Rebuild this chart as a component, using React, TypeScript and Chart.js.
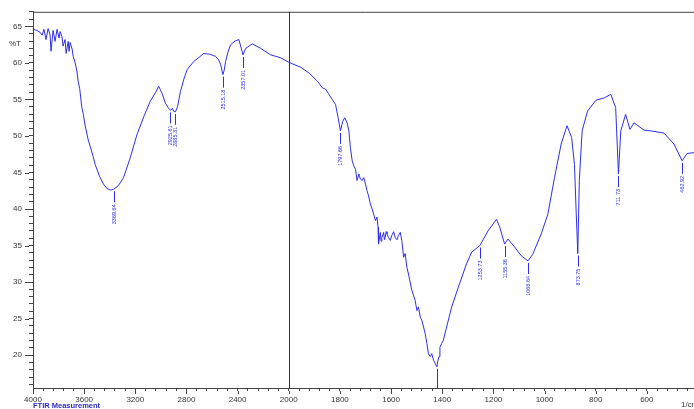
import React, { useEffect, useRef } from 'react';
import { Chart, registerables } from 'chart.js';
Chart.register(...registerables);

const wavenumbers = [
  4000, 3969, 3945, 3929, 3914, 3898, 3882, 3867, 3859, 3843, 3827, 3812, 3796, 3788, 3773, 3765, 3749, 3741, 3725, 3718,
  3710, 3694, 3686, 3670, 3657, 3647, 3635, 3618, 3608, 3592, 3575, 3566, 3553, 3530, 3514, 3480, 3449, 3420, 3396, 3370,
  3333, 3292, 3240, 3187, 3130, 3082, 3040, 3017, 2990, 2965, 2940, 2925, 2910, 2900, 2886, 2870, 2847, 2820, 2794, 2743,
  2700, 2664, 2620, 2573, 2550, 2533, 2515, 2505, 2494, 2475, 2455, 2420, 2390, 2376, 2358, 2337, 2285, 2220, 2141, 2100,
  2063, 2000,
  1953, 1920, 1888, 1869, 1856, 1843, 1830, 1817, 1807, 1798, 1789, 1781, 1772, 1765, 1759, 1752, 1746, 1739, 1733, 1726,
  1720, 1713, 1707, 1700, 1694, 1688, 1681, 1674, 1668, 1661, 1655, 1651, 1649, 1642, 1639, 1636, 1629, 1626, 1623, 1619,
  1616, 1610, 1603, 1597, 1590, 1584, 1577, 1571, 1564, 1558, 1551, 1545, 1538, 1532, 1519, 1506, 1499, 1493, 1486, 1480,
  1467, 1460, 1454, 1447, 1441, 1434,
  1428, 1421, 1418, 1412, 1409, 1402, 1396, 1363, 1337, 1305, 1285, 1253, 1221, 1188, 1175, 1156, 1143, 1117, 1091, 1065,
  1046, 1013, 987, 961, 935, 912, 894, 883, 876, 870, 864, 853, 832, 799, 767, 741, 722, 711, 702, 683,
  666, 650, 611, 585, 533, 494, 462, 443, 420, 400,
];

const transmittance = [
  64.6, 64.45, 64.2, 63.8, 64.6, 63.2, 64.7, 63.9, 61.6, 64.45, 62.95, 64.6, 63.4, 64.3, 63.6, 62.3, 63.2, 61.3, 62.95, 61.6,
  62.8, 61.9, 60.9, 60.0, 58.9, 57.5, 56.5, 53.9, 53.1, 51.4, 50.0, 49.3, 48.6, 47.2, 46.1, 44.5, 43.4, 42.8, 42.6, 42.7,
  43.2, 44.3, 47.0, 50.2, 52.8, 54.8, 56.0, 56.8, 55.8, 54.5, 53.8, 53.5, 53.8, 53.4, 53.3, 54.0, 56.1, 57.8, 59.1, 60.2,
  60.8, 61.3, 61.2, 60.9, 60.5, 59.8, 58.4, 59.0, 60.2, 61.5, 62.5, 63.0, 63.2, 62.3, 61.1, 62.0, 62.6, 62.0, 61.1, 60.9,
  60.7, 60.1,
  59.4, 58.6, 57.5, 56.6, 56.4, 55.7, 55.0, 54.3, 52.5, 50.7, 52.0, 52.5, 51.8, 50.7, 48.4, 46.6, 45.9, 45.45, 43.9, 44.8,
  44.1, 43.9, 44.3, 43.4, 42.5, 41.8, 40.7, 40.0, 39.3, 38.4, 38.9, 37.5, 35.2, 36.8, 35.6, 36.1, 36.8, 35.8, 36.1, 36.9,
  36.6, 36.1, 35.7, 36.4, 36.9, 36.1, 35.8, 36.4, 36.8, 35.7, 33.4, 33.9, 32.0, 31.1, 28.9, 27.5, 26.1, 26.6, 25.2, 24.8,
  23.0, 21.6, 20.2, 19.8, 20.2, 19.3,
  18.9, 18.4, 19.1, 19.8, 21.1, 21.6, 22.0, 26.6, 29.3, 32.5, 34.1, 35.0, 37.0, 38.6, 37.5, 35.2, 35.9, 34.8, 33.6, 32.9,
  33.8, 36.6, 39.3, 44.3, 48.9, 51.4, 49.8, 46.1, 39.3, 33.9, 43.9, 50.7, 53.4, 54.9, 55.2, 55.7, 53.9, 44.8, 50.7, 52.95,
  50.9, 51.8, 50.8, 50.7, 50.4, 48.9, 46.6, 47.6, 47.7, 47.9,
];

const xTickWavenumbers = [4000, 3600, 3200, 2800, 2400, 2000, 1800, 1600, 1400, 1200, 1000, 800, 600];
const yTickLabels = [20, 25, 30, 35, 40, 45, 50, 55, 60, 65];

const peakWavenumbers = [3370, 2925, 2886, 2515, 2358, 1798, 1421, 1253, 1156, 1065, 870, 711, 462];
const peakLabels = ['3369.64', '2925.81', '2885.31', '2515.18', '2357.01', '1797.66', '1421.54', '1253.73', '1155.36', '1066.64', '873.75', '711.73', '462.92'];

function toPos(w: number) {
  return w >= 2000 ? (4000 - w) / 2 : 1000 + (2000 - w);
}
function toWave(p: number) {
  return p <= 1000 ? 4000 - 2 * p : 3000 - p;
}

const BLUE = '#2f2fe8';
const AXIS = '#444';

const decor = {
  id: 'decor',
  afterDraw(chart: any) {
    const { ctx, chartArea: a } = chart;
    const x = chart.scales.x;
    const y = chart.scales.y;
    ctx.save();
    ctx.lineWidth = 1;
    ctx.strokeStyle = AXIS;
    ctx.beginPath();
    ctx.moveTo(a.left, a.top + 0.5);
    ctx.lineTo(a.right, a.top + 0.5);
    ctx.stroke();
    const sx = Math.round(x.getPixelForValue(toPos(2000))) + 0.5;
    ctx.strokeStyle = '#333';
    ctx.beginPath();
    ctx.moveTo(sx, a.top);
    ctx.lineTo(sx, a.bottom);
    ctx.stroke();
    ctx.strokeStyle = AXIS;
    ctx.beginPath();
    for (const v of yTickLabels) {
      const py = Math.round(y.getPixelForValue(v)) + 0.5;
      ctx.moveTo(a.left - 8, py);
      ctx.lineTo(a.left - 4, py);
    }
    for (const w of xTickWavenumbers) {
      const px = Math.round(x.getPixelForValue(toPos(w))) + 0.5;
      ctx.moveTo(px, a.bottom + 3);
      ctx.lineTo(px, a.bottom + 6);
    }
    ctx.stroke();
    ctx.fillStyle = '#333';
    ctx.font = '8px "Liberation Sans", Arial, sans-serif';
    ctx.textAlign = 'right';
    ctx.textBaseline = 'middle';
    ctx.fillText('%T', 21, y.getPixelForValue(62.6));
    ctx.strokeStyle = BLUE;
    ctx.fillStyle = BLUE;
    ctx.font = '5.5px "Liberation Sans", Arial, sans-serif';
    peakWavenumbers.forEach((w, i) => {
      let idx = 0;
      let best = Infinity;
      wavenumbers.forEach((ww, j) => {
        const d = Math.abs(ww - w);
        if (d < best) { best = d; idx = j; }
      });
      const px = Math.round(x.getPixelForValue(toPos(w))) + 0.5;
      const py = y.getPixelForValue(transmittance[idx]) + 2;
      const isLast = py > a.bottom - 40;
      const end = isLast ? a.bottom : py + 11;
      ctx.beginPath();
      ctx.moveTo(px, py);
      ctx.lineTo(px, end);
      ctx.stroke();
      if (!isLast) {
        ctx.save();
        ctx.translate(px, end + 2);
        ctx.rotate(-Math.PI / 2);
        ctx.textAlign = 'right';
        ctx.textBaseline = 'middle';
        ctx.fillText(peakLabels[i], 0, 0);
        ctx.restore();
      }
    });
    ctx.fillStyle = '#2a2acc';
    ctx.font = 'bold 7.5px "Liberation Sans", Arial, sans-serif';
    ctx.textAlign = 'left';
    ctx.textBaseline = 'alphabetic';
    ctx.fillText('FTIR Measurement', 33, 408);
    ctx.fillStyle = '#333';
    ctx.font = '8px "Liberation Sans", Arial, sans-serif';
    ctx.fillText('1/cm', 681, 407);
    ctx.restore();
  },
};

export default function App() {
  const ref = useRef<HTMLCanvasElement | null>(null);
  useEffect(() => {
    if (!ref.current) return;
    const data = wavenumbers.map((w, i) => ({ x: toPos(w), y: transmittance[i] }));
    const chart = new Chart(ref.current, {
      type: 'line',
      data: {
        datasets: [
          {
            data,
            borderColor: BLUE,
            borderWidth: 1,
            pointRadius: 0,
            tension: 0,
            fill: false,
          },
        ],
      },
      options: {
        responsive: false,
        animation: false,
        devicePixelRatio: 1,
        layout: { padding: { left: 0, top: 10, right: 3, bottom: 0 } },
        plugins: { legend: { display: false }, tooltip: { enabled: false } },
        scales: {
          x: {
            type: 'linear',
            min: 0,
            max: 2600,
            afterBuildTicks: (s: any) => {
              const t = [];
              for (let p = 0; p <= 2600; p += 40) t.push({ value: p });
              s.ticks = t;
            },
            afterFit: (s: any) => { s.height = 21; },
            grid: { display: true, drawOnChartArea: false, drawTicks: true, tickLength: 3, tickColor: AXIS },
            border: { display: true, color: AXIS, width: 1 },
            ticks: {
              autoSkip: false,
              maxRotation: 0,
              padding: 4,
              color: '#333',
              font: { size: 8, family: '"Liberation Sans", Arial, sans-serif' },
              callback: (v: any) => {
                const p = Number(v);
                if (p % 200 !== 0 || p >= 2600) return '';
                const w = toWave(p);
                return xTickWavenumbers.includes(w) ? String(w) : '';
              },
            },
          },
          y: {
            type: 'linear',
            min: 15.5,
            max: 67,
            afterBuildTicks: (s: any) => {
              const t = [];
              for (let v = 16; v <= 67; v++) t.push({ value: v });
              s.ticks = t;
            },
            afterFit: (s: any) => { s.width = 33; },
            grid: { display: true, drawOnChartArea: false, drawTicks: true, tickLength: 4, tickColor: AXIS },
            border: { display: true, color: AXIS, width: 1 },
            ticks: {
              autoSkip: false,
              padding: 7,
              color: '#333',
              font: { size: 8, family: '"Liberation Sans", Arial, sans-serif' },
              callback: (v: any) => (yTickLabels.includes(Number(v)) ? String(v) : ''),
            },
          },
        },
      },
      plugins: [decor],
    } as any);
    return () => chart.destroy();
  }, []);
  return (
    <div style={{ position: 'fixed', left: 0, top: 0, width: 694, height: 409, overflow: 'hidden', background: '#fff' }}>
      <canvas ref={ref} width={702} height={409} style={{ display: 'block', width: 702, height: 409 }} />
    </div>
  );
}
